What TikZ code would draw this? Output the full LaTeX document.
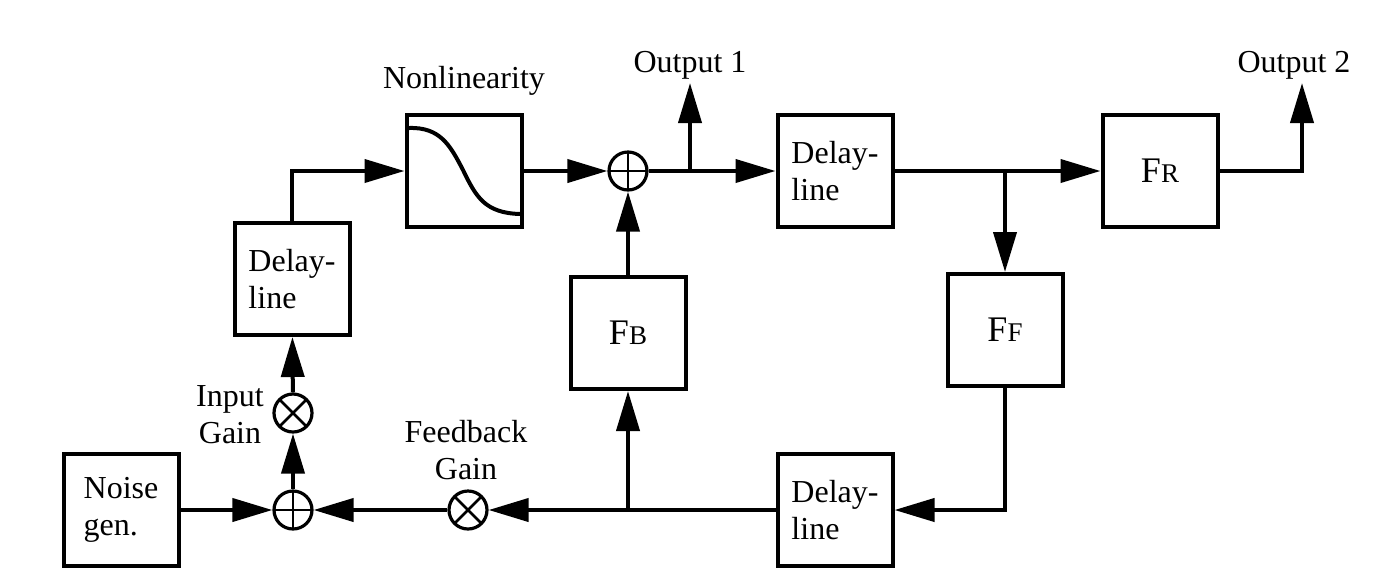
\documentclass[tikz,border=0pt]{standalone}
\usepackage{fontspec}
\setmainfont{Liberation Serif}
\usetikzlibrary{arrows.meta,positioning}

\newcommand{\fname}[1]{{\fontsize{18}{20}\selectfont F\fontsize{13.5}{16}\selectfont #1}}

\tikzset{
  block/.style={draw, line width=2pt, minimum width=57.5pt, minimum height=56pt,
    inner sep=0pt, align=left},
  junction/.style={draw, circle, line width=1.6pt, minimum size=19pt, inner sep=0pt},
  sumnode/.style={junction, path picture={
      \draw[line width=1.4pt] (path picture bounding box.north) -- (path picture bounding box.south)
        (path picture bounding box.west) -- (path picture bounding box.east);}},
  mulnode/.style={junction, path picture={
      \draw[line width=1.4pt] (path picture bounding box.north east) -- (path picture bounding box.south west)
        (path picture bounding box.north west) -- (path picture bounding box.south east);}},
  sig/.style={line width=2pt, -{Triangle[length=20pt, width=11.5pt]}},
  lbl/.style={align=center, inner sep=0pt}
}

\begin{document}
\begin{tikzpicture}[x=0.5pt, y=-0.5pt, font=\fontsize{16}{18.5}\selectfont]

    \useasboundingbox (0,0) rectangle (1376,580);

    % blocks
    \node[block] (noise)  at (121,510) {Noise\\gen.};
    \node[block] (delayA) at (292,279) {Delay-\\line};
    \node[block] (nonlin) at (464,171) {};
    \node[block] (delayB) at (835,171) {Delay-\\line};
    \node[block] (fr)     at (1160,171) {\fname{R}};
    \node[block] (ff)     at (1005,330) {\fname{F}};
    \node[block] (fb)     at (628,333) {\fname{B}};
    \node[block] (delayC) at (835,510) {Delay-\\line};

    % sigmoid inside the nonlinearity
    \draw[line width=2pt] (409,128) .. controls (440,127) and (450,145) .. (463,170)
      .. controls (476,197) and (485,213) .. (520,214);

    % adders and gains
    \node[sumnode] (addin)  at (293,510) {};
    \node[mulnode] (gainin) at (293,413) {};
    \node[sumnode] (addfb)  at (628,171) {};
    \node[mulnode] (gainfb) at (468,510) {};

    % labels
    \node[lbl, above=8.5pt of nonlin] {Nonlinearity};
    \node[lbl] (ingain) at (230,415) {Input\\Gain};
    \node[lbl] (fbgain) at (466,450) {Feedback\\Gain};

    \coordinate (out1) at (690,83);
    \coordinate (out2) at (1302,83);
    \node[lbl, anchor=south, yshift=1.5pt] at (out1) {Output 1};
    \node[lbl, anchor=south, yshift=1.5pt, xshift=-4pt] at (out2) {Output 2};

    % signal paths
    \draw[sig] (noise) -- (addin);
    \draw[sig] (addin) -- (gainin);
    \draw[sig] (gainin) -- (delayA);
    \draw[sig] (delayA.north) |- (nonlin.west);
    \draw[sig] (nonlin) -- (addfb);
    \draw[sig] (addfb) -- (delayB);
    \draw[sig] (addfb -| out1) -- (out1);
    \draw[sig] (delayB) -- (fr);
    \draw[sig] (delayB -| ff) -- (ff);
    \draw[sig] (fr.east) -| (out2);
    \draw[sig] (ff.south) |- (delayC.east);
    \draw[sig] (delayC) -- (gainfb);
    \draw[sig] (delayC -| fb) -- (fb);
    \draw[sig] (fb) -- (addfb);
    \draw[sig] (gainfb) -- (addin);

  \end{tikzpicture}
\end{document}
